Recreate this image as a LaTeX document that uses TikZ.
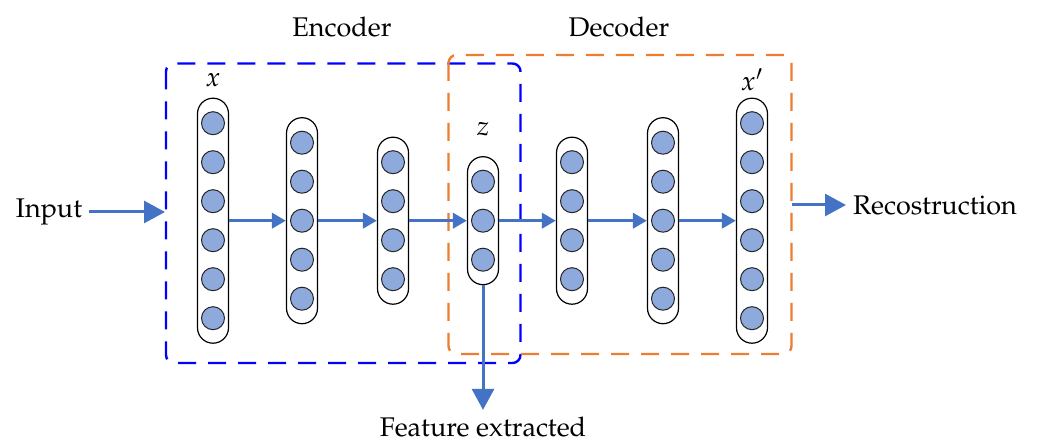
\documentclass[tikz,border=0pt]{standalone}
\usepackage[T1]{fontenc}
\usepackage{mathpazo}
\usetikzlibrary{arrows.meta}

\definecolor{flowblue}{RGB}{68,114,196}
\definecolor{unitfill}{RGB}{142,169,219}
\definecolor{encblue}{RGB}{0,0,255}
\definecolor{decorange}{RGB}{237,125,49}

\tikzset{
  layer/.style={draw, line width=0.6pt, rounded corners=7.75pt,
    minimum width=15.5pt, inner sep=0pt},
  unit/.style={circle, draw=black!85, fill=unitfill, line width=0.5pt,
    minimum size=11.5pt, inner sep=0pt},
  flow/.style={-{Triangle[length=7pt,width=7.5pt]}, flowblue, line width=1.8pt},
  ioflow/.style={-{Triangle[length=10.5pt,width=11pt]}, flowblue, line width=1.5pt},
  group/.style={line width=1.2pt, dash pattern=on 9pt off 6pt, rounded corners=4pt},
  lbl/.style={font=\fontsize{13.5}{16}\selectfont},
}

\begin{document}
\begin{tikzpicture}[x=0.5pt,y=-0.5pt]
  \useasboundingbox (0,0) rectangle (1040,443);

  % encoder / decoder frames
  \draw[group, encblue] (166,63.5) rectangle (520.5,363);
  \draw[group, decorange] (448.5,55) rectangle (791.5,354);
  \node[lbl] (enc) at (342,27) {Encoder};
  \node[lbl] (dec) at (619,27) {Decoder};

  % layers of units
  \foreach \i/\cx/\n in {1/213/6, 2/302/5, 3/393/4, 4/483/3, 5/572/4, 6/663/5, 7/752/6} {
    \node[layer, minimum height={(\n-1)*19.5pt+25pt}] (col\i) at (\cx,220.7) {};
    \foreach \k in {1,...,\n}
      \node[unit] (u\i-\k) at (\cx,{220.7+(\k-(\n+1)/2)*39}) {};
  }

  % layer labels
  \node[lbl] (xin) at (213,80) {$x$};
  \node[lbl] (zcode) at (483,129) {$z$};
  \node[lbl] (xout) at (752,80) {$x'$};

  % forward pass
  \foreach \i [count=\j from 2] in {1,...,6}
    \draw[flow] (col\i.east) -- (col\j.west);

  % input and output
  \node[lbl] (input) at (49,212) {Input};
  \coordinate (encin) at (165,212);
  \draw[ioflow] (input.east) -- (encin);

  \coordinate (decout) at (791.5,205);
  \node[lbl, anchor=west] (recon) at (846,205) {Recostruction};
  \draw[ioflow] (decout) -- (recon.west);

  % code taken out of the bottleneck
  \node[lbl] (feat) at (483,427) {Feature extracted};
  \draw[ioflow] (col4.south) -- (feat.north);
\end{tikzpicture}
\end{document}
